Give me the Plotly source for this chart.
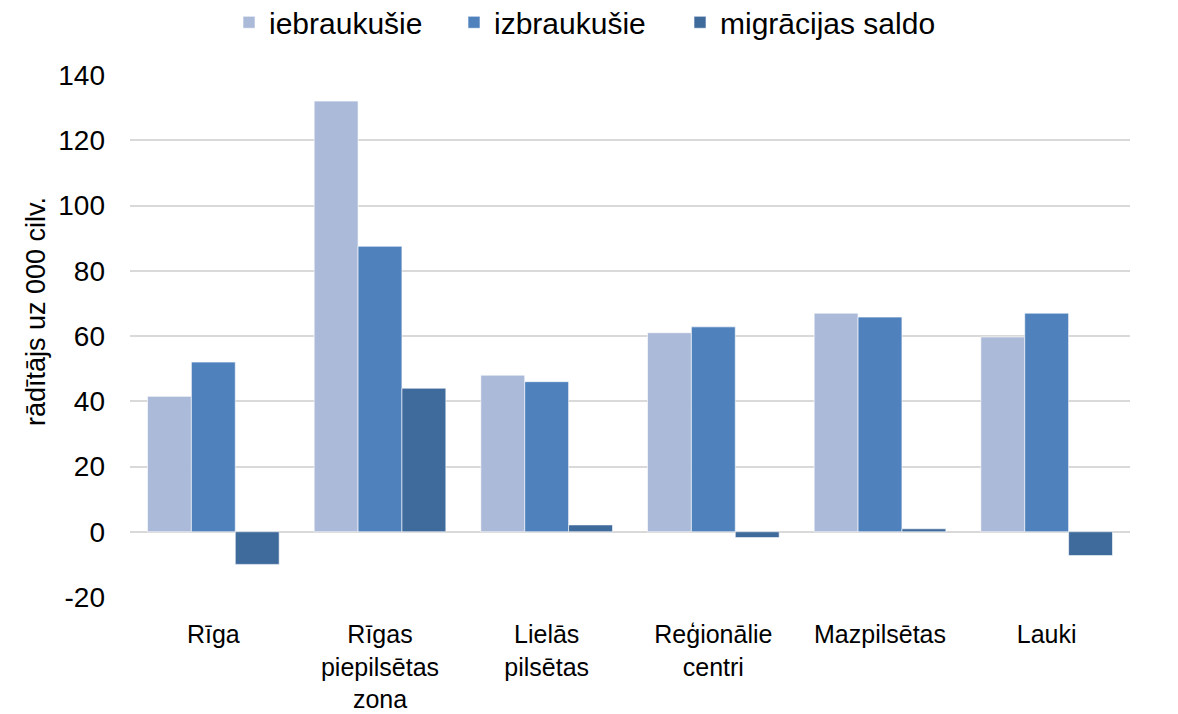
import plotly.graph_objects as go

categories = ["Rīga", "Rīgas<br>piepilsētas<br>zona", "Lielās<br>pilsētas", "Reģionālie<br>centri", "Mazpilsētas", "Lauki"]
iebraukusie = [41.5, 132, 48, 61, 67, 59.7]
izbraukusie = [52, 87.5, 46, 62.8, 65.8, 67]
saldo = [-10, 44, 2.1, -1.8, 0.9, -7.3]
y_ticks = [-20, 0, 20, 40, 60, 80, 100, 120, 140]
y_tick_labels = ["-20", "0", "20", "40", "60", "80", "100", "120", "140"]
y_title = "rādītājs uz 000 cilv."

series = [
    ("iebraukušie", iebraukusie, "#ABBAD8", "legend"),
    ("izbraukušie", izbraukusie, "#4F81BD", "legend2"),
    ("migrācijas saldo", saldo, "#3F6A9C", "legend3"),
]

fig = go.Figure()
for name, vals, col, leg in series:
    fig.add_trace(go.Bar(x=categories, y=vals, name=name, legend=leg, showlegend=True,
                         marker=dict(color=col, line=dict(color="rgba(255,255,255,0.6)", width=1))))

font = "Liberation Sans, Arial, sans-serif"

def legend_at(xpx):
    return dict(orientation="h", x=xpx / 1178, xanchor="left", xref="container",
                y=0.98, yanchor="middle", yref="container",
                font=dict(size=30), itemwidth=30, bgcolor="rgba(0,0,0,0)")

fig.update_layout(
    width=1178, height=714,
    showlegend=True,
    barmode="group", bargap=0.21, bargroupgap=0,
    plot_bgcolor="white", paper_bgcolor="white",
    margin=dict(l=122, r=56, t=67, b=125, autoexpand=False),
    font=dict(family=font, size=27, color="black"),
    legend=legend_at(221),
    legend2=legend_at(446),
    legend3=legend_at(672),
    xaxis=dict(showgrid=False, showline=False, ticks="", tickfont=dict(size=25), automargin=False,
               ticklabelstandoff=20),
    yaxis=dict(range=[-20, 140], tickvals=y_ticks, ticktext=y_tick_labels,
               showgrid=True, gridcolor="#D9D9D9", gridwidth=1.5,
               zeroline=True, zerolinecolor="#D9D9D9", zerolinewidth=1.5, automargin=False,
               ticklabelstandoff=24, tickfont=dict(size=28)),
    annotations=[dict(text=y_title, textangle=-90, xref="paper", yref="paper",
                      x=-0.094, y=0.546, xanchor="center", yanchor="middle",
                      showarrow=False, font=dict(size=27))],
)
fig.write_html("out.html")
